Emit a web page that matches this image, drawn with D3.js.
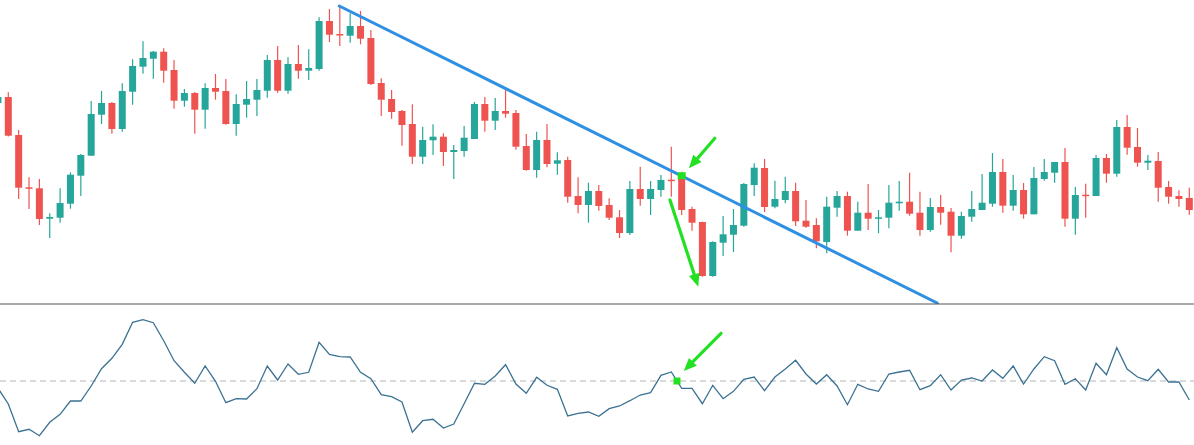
<!DOCTYPE html>
<html><head><meta charset="utf-8">
<script src="https://cdn.jsdelivr.net/npm/d3@7/dist/d3.min.js"></script>
<style>html,body{margin:0;padding:0;background:#fff;overflow:hidden}</style>
</head><body><svg id="c" width="1194" height="445"></svg>
<script>
// Bar indices (-1 .. 114)
const barIndex = d3.range(-1, 115);
const opens = [197,203,165,112.7,111.7,81.3,82.3,96.3,124.3,144.3,185.3,197,171,208.3,233.3,241.3,248.3,230,199.3,207,190.3,212,209,176,195.3,200.3,209.3,240,209.3,236,229.3,231,279,266,264.3,274,262,217,201,189,176,143.3,159.7,163.3,148,149,161,196,179.3,189,187,154,130,160,136.3,140,104,95,109,95,82.7,67,111,101,110,120.3,124.3,91,78,24,57.3,65.3,74.3,115,132,93.3,100,109,79.3,75,58,92.3,104,69.3,87.3,81.3,82.3,96.7,98.3,87.3,70,93,88.3,64.3,83.3,90,96.3,128,94.3,110,85.7,121,127.3,138,81.3,105.3,104,142,126.3,173,153,137.3,139,113,104,102];
const highs = [205,207.7,170,122.7,121,86.7,111.7,127.7,146,199,209,198,216.7,240.7,258.7,249,251.7,240,211,208,216.7,226,221,205.7,219,221,245,254,242.7,255,250.7,282.7,291,295,286.7,289,270,221.7,210,190,195.7,173.3,175.7,166.7,155,174,198,203,202,210,190,166,168.3,176,147.7,143.3,122.7,117.3,115,101.7,90,119,133.3,119,125,153.3,128.3,93.3,78.3,58.7,84,91,117,136.7,141,119.3,123.3,117.3,100,81.7,103.3,109,108.3,98.3,116,90,115,119,127.3,108.3,102,105,92,88.3,109,126,147,141,125,117,133,141,138,152,113,116.3,145,146,180,185,172,145,148,119,109.7,112.3];
const lows = [194,163.5,101,91,75,62,77.3,91.3,104,144.3,176,166.3,168.3,195.3,226.3,221.3,217.3,191.3,193.3,166.3,171.3,200.3,175.3,164.3,182.3,184,202.3,207.3,206.3,221.3,220,229.3,258,254,257.3,255.7,215,184,181.3,154.3,136,136,145,134,121,143.3,161,168.3,170,182.3,150.3,129.3,122.3,132.7,125.3,97.3,86.7,77.3,89.3,80,62,65,94.3,85,103.3,103.3,85,69.3,23.3,23.3,44,48,73.3,104,88,91.7,96.7,74,72.3,51.7,46.7,83.3,64.3,69.3,70,66.7,71.7,89.3,84.3,64.3,68.3,75.3,47.7,61.3,78.3,90,93.3,87.3,89.3,81.3,85.7,119.3,117.3,73.3,65.3,82.3,104,117.3,123.3,145.3,133.3,130,98.3,96.3,93.3,85.3];
const closes = [203,164.3,112.3,111.3,81,83,97,125.3,145,186,197,171,209,234,242,248.3,229.3,199.3,207,190.3,212,208.3,176,196,201,210,240,209.3,236,229.3,232,279,265.3,264.7,274,261.3,216,200.3,188,175,143.3,160,163.3,148,150,162.3,196,179.3,189,186.3,153.3,130,160,136,139.7,103.3,95,109,94,82.3,67,111,101,111,120,119,90,77.3,24,58,65.7,75,116,132.3,93,101,109,78.7,73.3,58.7,93.3,104,69.3,87.3,81.3,82.7,97.3,98.3,86.3,70,93,87.3,64.3,84,91,97.3,128,94.3,110,85.7,122,128,138,81.3,105,104,142,126.3,173,152.3,137.3,139.3,112.3,103.3,101,90];
// Oscillator values (lower pane)
const oscValues = [-7,-23,-50.7,-48.3,-54.7,-41.3,-33.3,-20,-20,-5,12.3,22.7,36.7,58.7,61.3,58.3,40.3,20.3,8.7,-2.3,15,-0.3,-21.7,-17.7,-18,-7.7,15,1,17,6.7,8.7,38.7,26.7,24.3,24,8.7,2.3,-13.7,-15.7,-21,-51.3,-39.7,-38.3,-47,-43,-22.7,-2.3,-3.3,5,16.3,-3,-12.3,3.7,-4.3,-8.3,-35,-32.3,-31,-35.3,-27.7,-25,-19.7,-14,-11.7,5.7,9,-7.3,-7.3,-22.7,-4.3,-17.7,-10.3,1.7,4,-9.7,4,12,20.7,7,-3,6.3,-5,-23.7,-3.3,-8,-10.3,7,9,10.7,-8.7,-4.7,6.3,-9,1,3,0,11,2.7,15,-3,12,24.3,20.3,-3.3,2.3,-9,17.7,6.3,33.3,12,4,0.3,11.7,-1,-1,-19];
// Trendline endpoints [index, price]
const trendIdx = [31.95, 89.67];
const trendVal = [294, -3];
// Annotations
const markIdx = [65];          // marked candle (price pane, at open)
const oscMarkIdx = [64.55];     // zero crossing marker in lower pane
const arrowPriceTail = [[68.2, 161.7], [63.87, 100]];
const arrowPriceTip  = [[65.7, 131.7], [66.6, 13.3]];
const arrowOscTail = [[68.8, 47.7]];
const arrowOscTip  = [[65.2, 10]];

const W = 1194, H = 445, SEP = 304;
const svg = d3.select('#c');
const x = d3.scaleLinear().domain([0, 114]).range([8.3, 1189.3]);
const y = d3.scaleLinear().domain([0, 300]).range([300, 0]);
const yo = d3.scaleLinear().domain([-64, 77]).range([445, 304]);

const UP = '#26a69a', DN = '#ef5350', GREEN = '#22e022';

svg.append('defs').append('clipPath').attr('id', 'pp')
  .append('rect').attr('x', 0).attr('y', 0).attr('width', W).attr('height', SEP);

const candles = barIndex.map((i, k) => ({i, o: opens[k], h: highs[k], l: lows[k], c: closes[k]}));
const gp = svg.append('g').attr('clip-path', 'url(#pp)');
const cg = gp.selectAll('g.cd').data(candles).join('g').attr('class', 'cd');
cg.append('line')
  .attr('x1', d => x(d.i)).attr('x2', d => x(d.i))
  .attr('y1', d => y(d.h)).attr('y2', d => y(d.l))
  .attr('stroke', d => d.c >= d.o ? UP : DN).attr('stroke-width', 1.2);
cg.append('rect')
  .attr('x', d => x(d.i) - 3.5).attr('width', 7)
  .attr('y', d => y(Math.max(d.o, d.c)))
  .attr('height', d => Math.max(1.5, Math.abs(y(d.o) - y(d.c))))
  .attr('fill', d => d.c >= d.o ? UP : DN);

// trendline
gp.append('line')
  .attr('x1', x(trendIdx[0])).attr('y1', y(trendVal[0]))
  .attr('x2', x(trendIdx[1])).attr('y2', y(trendVal[1]))
  .attr('stroke', '#2e8fe3').attr('stroke-width', 3).attr('stroke-linecap', 'round');

// separator
svg.append('line').attr('x1', 0).attr('x2', W).attr('y1', SEP).attr('y2', SEP)
  .attr('stroke', '#555').attr('stroke-width', 1.2);

// zero line
svg.append('line').attr('x1', 0).attr('x2', W).attr('y1', yo(0)).attr('y2', yo(0))
  .attr('stroke', '#b5b5b5').attr('stroke-width', 1).attr('stroke-dasharray', '6,4');

// oscillator
const oscData = barIndex.map((i, k) => [i, oscValues[k]]);
svg.append('path').datum(oscData)
  .attr('d', d3.line().x(d => x(d[0])).y(d => yo(d[1])))
  .attr('fill', 'none').attr('stroke', '#3b7293').attr('stroke-width', 1.3);

function arrow(p0, p1) {
  const dx = p1[0] - p0[0], dy = p1[1] - p0[1];
  const len = Math.hypot(dx, dy), ux = dx / len, uy = dy / len;
  const hl = 13, hw = 5.5;
  const bx = p1[0] - ux * hl, by = p1[1] - uy * hl;
  svg.append('line').attr('x1', p0[0]).attr('y1', p0[1]).attr('x2', bx + ux * 2).attr('y2', by + uy * 2)
    .attr('stroke', GREEN).attr('stroke-width', 3.2).attr('stroke-linecap', 'round');
  svg.append('path')
    .attr('d', `M${p1[0]},${p1[1]}L${bx - uy * hw},${by + ux * hw}L${bx + uy * hw},${by - ux * hw}Z`)
    .attr('fill', GREEN);
}
arrowPriceTail.forEach((t, k) => arrow([x(t[0]), y(t[1])], [x(arrowPriceTip[k][0]), y(arrowPriceTip[k][1])]));
arrowOscTail.forEach((t, k) => arrow([x(t[0]), yo(t[1])], [x(arrowOscTip[k][0]), yo(arrowOscTip[k][1])]));

// markers
markIdx.forEach(i => {
  const k = barIndex.indexOf(i);
  svg.append('rect').attr('x', x(i) - 4).attr('y', y(opens[k]) - 3.5).attr('width', 8).attr('height', 7)
    .attr('fill', GREEN);
});
oscMarkIdx.forEach(i => {
  svg.append('rect').attr('x', x(i) - 3.5).attr('y', yo(0) - 3.5).attr('width', 7).attr('height', 7)
    .attr('fill', GREEN);
});
</script></body></html>
